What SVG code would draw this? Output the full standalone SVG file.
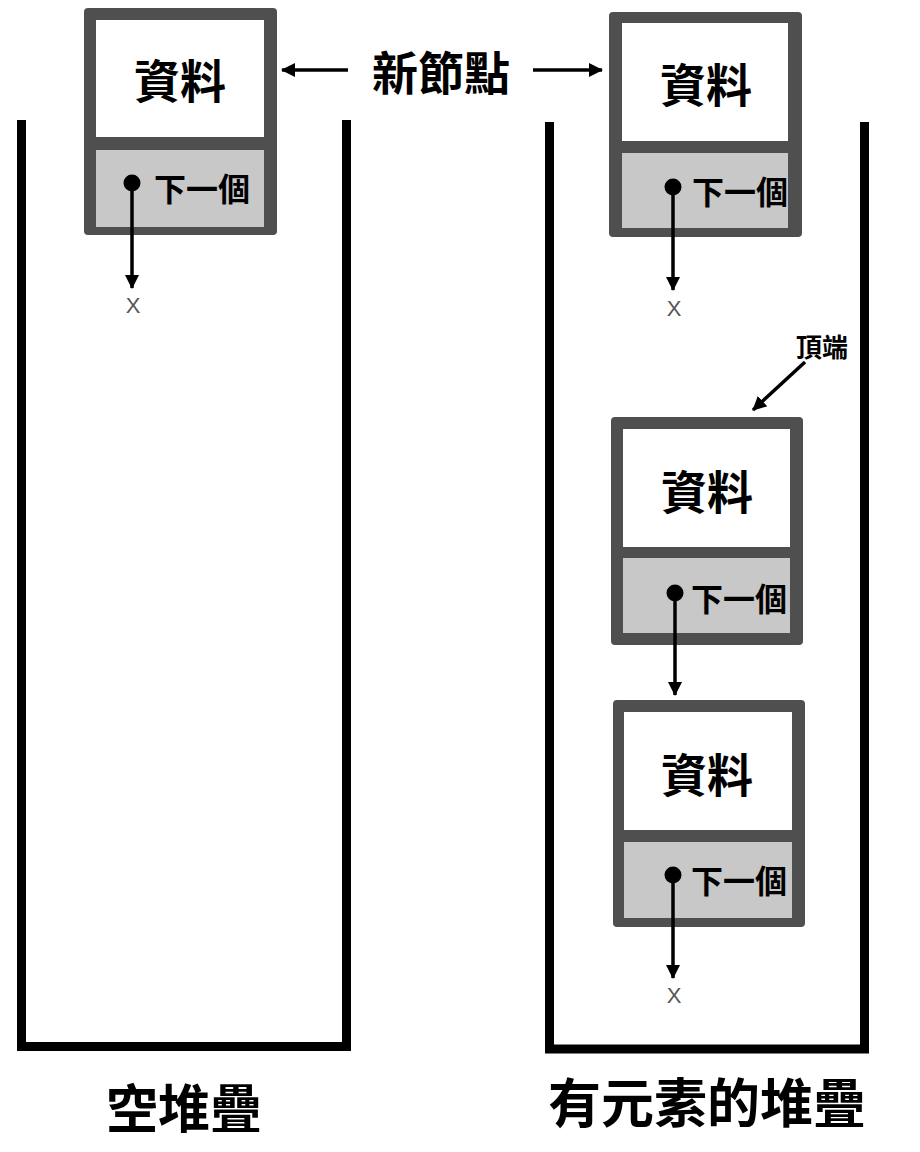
<svg xmlns="http://www.w3.org/2000/svg" width="920" height="1152" viewBox="0 0 920 1152">
<style>
.wall{fill:none;stroke:#000;stroke-width:9;stroke-linejoin:miter}
.frame{fill:#4f4f4f}
.data{fill:#fff}
.next{fill:#c8c8c8}
.cjk{font-family:"Noto Sans CJK TC","Noto Sans CJK SC",sans-serif;font-weight:700;fill:#000;text-anchor:middle;dominant-baseline:central}
.t45{font-size:46px}
.t31{font-size:32px;font-weight:700}
.x{font-family:"Liberation Sans","DejaVu Sans",sans-serif;font-size:22px;fill:#555;text-anchor:middle;dominant-baseline:central}
.conn{stroke:#000;stroke-width:3.5;fill:none}
</style>
<defs>
<marker id="ah" viewBox="0 0 14 14" refX="13" refY="7" markerWidth="14" markerHeight="14" markerUnits="userSpaceOnUse" orient="auto">
<path d="M0,0 L14,7 L0,14 z" fill="#000"/>
</marker>
</defs>
<rect width="920" height="1152" fill="#fff"/>

<g id="empty-stack">
<path class="wall" d="M21.5,120 V1046.5 H346.5 V120"/>
<text class="cjk" x="184" y="1105" style="font-size:52px">空堆疊</text>
</g>
<g id="filled-stack">
<path class="wall" d="M549.5,122 V1049 H864.5 V122"/>
<text class="cjk" x="707" y="1100" style="font-size:53px">有元素的堆疊</text>
</g>

<g id="new-node-label">
<text class="cjk" x="441" y="70" style="font-size:46px">新節點</text>
</g>
<g id="top-label">
<text class="cjk" x="822" y="345" style="font-size:26px">頂端</text>
</g>

<g id="node-left">
<rect class="frame" x="84" y="8" width="193" height="227" rx="4"/>
<rect class="data" x="96" y="20" width="168" height="117"/>
<rect class="next" x="96" y="150" width="168" height="77"/>
<text class="cjk t45" x="180" y="78">資料</text>
<text class="cjk t31" x="202" y="187">下一個</text>
<circle cx="132" cy="183" r="8.5" fill="#000"/>
</g>

<g id="node-right-new">
<rect class="frame" x="609" y="12" width="193" height="225" rx="4"/>
<rect class="data" x="622" y="23" width="166" height="118"/>
<rect class="next" x="622" y="153" width="166" height="75"/>
<text class="cjk t45" x="706" y="82">資料</text>
<text class="cjk t31" x="740" y="190">下一個</text>
<circle cx="673" cy="187" r="8.5" fill="#000"/>
</g>

<g id="node-right-top">
<rect class="frame" x="611" y="417" width="192" height="228" rx="4"/>
<rect class="data" x="623" y="429" width="167" height="118"/>
<rect class="next" x="623" y="558" width="167" height="75"/>
<text class="cjk t45" x="707" y="489">資料</text>
<text class="cjk t31" x="739" y="597">下一個</text>
<circle cx="675" cy="593" r="8.5" fill="#000"/>
</g>

<g id="node-right-bottom">
<rect class="frame" x="613" y="700" width="192" height="227" rx="4"/>
<rect class="data" x="624" y="712" width="168" height="118"/>
<rect class="next" x="624" y="842" width="168" height="76"/>
<text class="cjk t45" x="707" y="772">資料</text>
<text class="cjk t31" x="739" y="879">下一個</text>
<circle cx="673" cy="875" r="8.5" fill="#000"/>
</g>

<g id="null-labels">
<text class="x" x="133" y="305">X</text>
<text class="x" x="674" y="308">X</text>
<text class="x" x="674" y="995">X</text>
</g>

<g id="connectors">
<line class="conn" x1="348" y1="70" x2="282" y2="70" marker-end="url(#ah)"/>
<line class="conn" x1="533" y1="70" x2="602" y2="70" marker-end="url(#ah)"/>
<line class="conn" x1="805" y1="362" x2="753" y2="410" marker-end="url(#ah)"/>
<line class="conn" x1="132" y1="183" x2="132" y2="288" marker-end="url(#ah)"/>
<line class="conn" x1="673" y1="187" x2="673" y2="290" marker-end="url(#ah)"/>
<line class="conn" x1="675" y1="593" x2="675" y2="695" marker-end="url(#ah)"/>
<line class="conn" x1="673" y1="875" x2="673" y2="978" marker-end="url(#ah)"/>
</g>
</svg>
